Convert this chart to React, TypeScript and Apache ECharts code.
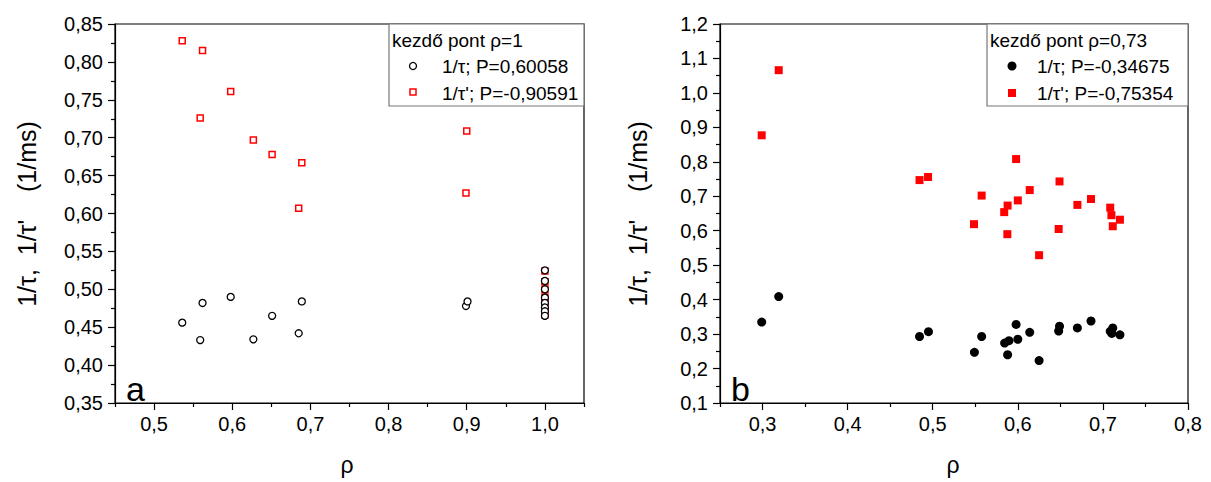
import React, { useEffect, useRef } from "react";
import * as echarts from "echarts";

// Panel a
const A_TAU_RHO = [0.536, 0.559, 0.562, 0.598, 0.627, 0.651, 0.685, 0.689, 0.899, 0.901, 1, 1, 1, 1, 1, 1, 1, 1];
const A_TAU_VAL = [0.456, 0.433, 0.482, 0.49, 0.434, 0.465, 0.442, 0.484, 0.478, 0.484, 0.525, 0.511, 0.5, 0.489, 0.482, 0.476, 0.471, 0.465];
const A_TAUP_RHO = [0.536, 0.562, 0.598, 0.559, 0.627, 0.651, 0.689, 0.685, 0.9, 0.899, 1, 1, 1, 1, 1, 1, 1, 1];
const A_TAUP_VAL = [0.828, 0.815, 0.761, 0.726, 0.697, 0.678, 0.667, 0.607, 0.709, 0.627, 0.524, 0.51, 0.5, 0.49, 0.483, 0.476, 0.471, 0.466];

// Panel b
const B_TAU_RHO = [0.299, 0.319, 0.4845, 0.495, 0.549, 0.5575, 0.5845, 0.5896, 0.588, 0.598, 0.6, 0.614, 0.625, 0.649, 0.648, 0.67, 0.686, 0.7116, 0.7086, 0.7105, 0.72];
const B_TAU_VAL = [0.335, 0.409, 0.293, 0.307, 0.247, 0.293, 0.274, 0.281, 0.24, 0.328, 0.285, 0.305, 0.223, 0.323, 0.309, 0.318, 0.338, 0.318, 0.308, 0.302, 0.298];
const B_TAUP_RHO = [0.299, 0.319, 0.4845, 0.4945, 0.5485, 0.5575, 0.584, 0.588, 0.5877, 0.598, 0.6, 0.614, 0.625, 0.649, 0.648, 0.67, 0.686, 0.7086, 0.71, 0.7116, 0.72];
const B_TAUP_VAL = [0.877, 1.066, 0.747, 0.756, 0.619, 0.702, 0.654, 0.673, 0.59, 0.808, 0.688, 0.718, 0.529, 0.743, 0.605, 0.675, 0.692, 0.667, 0.645, 0.613, 0.632];

// Ticks
const A_X_MAJOR = [0.5, 0.6, 0.7, 0.8, 0.9, 1.0];
const A_X_MINOR = [0.45, 0.55, 0.65, 0.75, 0.85, 0.95, 1.05];
const B_X_MAJOR = [0.3, 0.4, 0.5, 0.6, 0.7, 0.8];
const B_X_MINOR = [0.25, 0.35, 0.45, 0.55, 0.65, 0.75];

const A_LEGEND_TITLE = "kezdő pont ρ=1";
const A_LEGEND = ["1/τ; P=0,60058", "1/τ'; P=-0,90591"];
const B_LEGEND_TITLE = "kezdő pont ρ=0,73";
const B_LEGEND = ["1/τ; P=-0,34675", "1/τ'; P=-0,75354"];
const Y_TITLE = "1/τ,  1/τ'    (1/ms)";
const X_TITLE = "ρ";

const FONT = "'Liberation Sans', Arial, sans-serif";

const zip = (xs: number[], ys: number[]) => xs.map((x, i) => [x, ys[i]]);
const comma = (d: number) => (v: number) => v.toFixed(d).replace(".", ",");

export default function App() {
  const ref = useRef<HTMLDivElement>(null);
  useEffect(() => {
    document.body.style.margin = "0";
    const chart = echarts.init(ref.current!, null, { renderer: "svg" });

    const xMain = (grid: number, min: number, max: number, major: number[]) => ({
      type: "value",
      gridIndex: grid,
      min,
      max,
      position: "bottom",
      axisLine: { show: true, onZero: false, lineStyle: { color: "#000", width: 1.2 } },
      axisTick: { show: true, length: 7, customValues: major, lineStyle: { color: "#000", width: 1.2 } },
      axisLabel: { customValues: major, formatter: comma(1), fontFamily: FONT, fontSize: 20, color: "#000", margin: 11 },
      splitLine: { show: false },
    });
    const xMinor = (grid: number, min: number, max: number, minor: number[]) => ({
      type: "value",
      gridIndex: grid,
      min,
      max,
      position: "bottom",
      axisLine: { show: false },
      axisTick: { show: true, length: 4, customValues: minor, lineStyle: { color: "#000", width: 1.2 } },
      axisLabel: { show: false },
      splitLine: { show: false },
    });
    const yAx = (grid: number, min: number, max: number, interval: number, d: number) => ({
      type: "value",
      gridIndex: grid,
      min,
      max,
      interval,
      axisLine: { show: true, onZero: false, lineStyle: { color: "#000", width: 1.2 } },
      axisTick: { show: true, length: 7, lineStyle: { color: "#000", width: 1.2 } },
      minorTick: { show: true, splitNumber: 2, length: 4, lineStyle: { color: "#000", width: 1.2 } },
      axisLabel: { formatter: comma(d), fontFamily: FONT, fontSize: 20, color: "#000", margin: 12 },
      splitLine: { show: false },
    });

    const legend = (
      x0: number, x1: number, title: string, names: string[], symX: number, textX: number,
      filled: boolean
    ) => [
      { type: "rect", shape: { x: x0, y: 24, width: x1 - x0, height: 82 }, style: { fill: "#fff", stroke: "#777", lineWidth: 1.2 }, z: 10 },
      { type: "text", x: x0 + 3, y: 40, style: { text: title, fontFamily: FONT, fontSize: 19, fill: "#000", verticalAlign: "middle" }, z: 11 },
      filled
        ? { type: "circle", shape: { cx: symX, cy: 66, r: 4.5 }, style: { fill: "#000" }, z: 11 }
        : { type: "circle", shape: { cx: symX, cy: 66, r: 3.5 }, style: { fill: "#fff", stroke: "#000", lineWidth: 1.3 }, z: 11 },
      filled
        ? { type: "rect", shape: { x: symX - 4, y: 93 - 4, width: 8, height: 8 }, style: { fill: "#f00" }, z: 11 }
        : { type: "rect", shape: { x: symX - 3, y: 92 - 3, width: 6, height: 6 }, style: { fill: "#fff", stroke: "#f00", lineWidth: 1.5 }, z: 11 },
      { type: "text", x: textX, y: 66, style: { text: names[0], fontFamily: FONT, fontSize: 19, fill: "#000", verticalAlign: "middle" }, z: 11 },
      { type: "text", x: textX, y: 93, style: { text: names[1], fontFamily: FONT, fontSize: 19, fill: "#000", verticalAlign: "middle" }, z: 11 },
    ];

    chart.setOption({
      animation: false,
      backgroundColor: "#fff",
      grid: [
        { left: 115, top: 24, width: 469, height: 379, show: true, borderColor: "#000", borderWidth: 1.2, backgroundColor: "transparent" },
        { left: 720, top: 24, width: 468, height: 379, show: true, borderColor: "#000", borderWidth: 1.2, backgroundColor: "transparent" },
      ],
      xAxis: [
        xMain(0, 0.45, 1.05, A_X_MAJOR),
        xMinor(0, 0.45, 1.05, A_X_MINOR),
        xMain(1, 0.25, 0.8, B_X_MAJOR),
        xMinor(1, 0.25, 0.8, B_X_MINOR),
      ],
      yAxis: [yAx(0, 0.35, 0.85, 0.05, 2), yAx(1, 0.1, 1.2, 0.1, 1)],
      series: [
        {
          type: "scatter", name: A_LEGEND[1], xAxisIndex: 0, yAxisIndex: 0, data: zip(A_TAUP_RHO, A_TAUP_VAL),
          symbol: "rect", symbolSize: 6, itemStyle: { color: "#fff", borderColor: "#f00", borderWidth: 1.5, opacity: 1 },
        },
        {
          type: "scatter", name: A_LEGEND[0], xAxisIndex: 0, yAxisIndex: 0, data: zip(A_TAU_RHO, A_TAU_VAL),
          symbol: "circle", symbolSize: 7, itemStyle: { color: "#fff", borderColor: "#000", borderWidth: 1.3, opacity: 1 },
        },
        {
          type: "scatter", name: B_LEGEND[1], xAxisIndex: 2, yAxisIndex: 1, data: zip(B_TAUP_RHO, B_TAUP_VAL),
          symbol: "rect", symbolSize: 8, itemStyle: { color: "#f00", opacity: 1 },
        },
        {
          type: "scatter", name: B_LEGEND[0], xAxisIndex: 2, yAxisIndex: 1, data: zip(B_TAU_RHO, B_TAU_VAL),
          symbol: "circle", symbolSize: 9, itemStyle: { color: "#000", opacity: 1 },
        },
      ],
      graphic: [
        ...legend(389, 584, A_LEGEND_TITLE, A_LEGEND, 413, 442, false),
        ...legend(987, 1188, B_LEGEND_TITLE, B_LEGEND, 1012, 1037, true),
        { type: "text", x: 126, y: 406, style: { text: "a", fontFamily: FONT, fontSize: 34, fill: "#000", verticalAlign: "bottom" }, z: 11 },
        { type: "text", x: 731, y: 406, style: { text: "b", fontFamily: FONT, fontSize: 34, fill: "#000", verticalAlign: "bottom" }, z: 11 },
        { type: "text", x: 27, y: 214, rotation: Math.PI / 2, style: { text: Y_TITLE, fontFamily: FONT, fontSize: 25, fill: "#000", align: "center", verticalAlign: "middle" } },
        { type: "text", x: 638, y: 214, rotation: Math.PI / 2, style: { text: Y_TITLE, fontFamily: FONT, fontSize: 25, fill: "#000", align: "center", verticalAlign: "middle" } },
        { type: "text", x: 347, y: 465, style: { text: X_TITLE, fontFamily: FONT, fontSize: 23, fill: "#000", align: "center", verticalAlign: "middle" } },
        { type: "text", x: 953, y: 465, style: { text: X_TITLE, fontFamily: FONT, fontSize: 23, fill: "#000", align: "center", verticalAlign: "middle" } },
      ],
    });
    return () => chart.dispose();
  }, []);
  return <div ref={ref} style={{ width: 1211, height: 482 }} />;
}
